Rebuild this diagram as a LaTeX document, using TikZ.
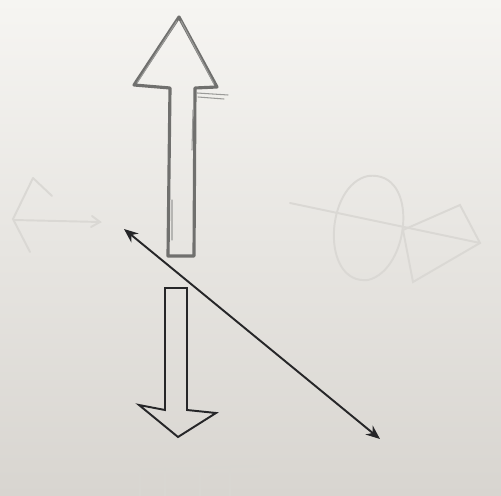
\documentclass[tikz,border=0pt]{standalone}
\usepackage{xcolor}
\usepackage{tikz}
\usetikzlibrary{arrows.meta}
\definecolor{paperlight}{RGB}{246,245,242}
\definecolor{paperdark}{RGB}{216,213,208}
\definecolor{pencilgray}{RGB}{112,112,110}
\definecolor{inkblack}{RGB}{38,38,40}
\definecolor{ghostgray}{RGB}{218,216,212}

\begin{document}
\begin{tikzpicture}[x=0.02cm, y=-0.02cm,
  pencil/.style={draw=pencilgray, line width=1.8pt, line join=round, line cap=round},
  sketch/.style={draw=pencilgray!70, line width=0.6pt, line cap=round},
  inkline/.style={draw=inkblack, line width=1.1pt, line join=miter},
  ghost/.style={draw=ghostgray, line width=1.1pt, line cap=round},
  twohead/.style={inkblack, line width=1.1pt, {Stealth[length=8pt,width=6.5pt]}-{Stealth[length=8pt,width=6.5pt]}}]

% Paper
\shade[shading angle=150, top color=paperlight, bottom color=paperdark]
  (0,0) rectangle (501,496);
\useasboundingbox (0,0) rectangle (501,496);

% Show-through from the back of the sheet
\draw[ghost] (14,220) -- (100,222);
\draw[ghost] (92,216) -- (100,222) -- (91,227);
\draw[ghost] (33,178) -- (13,219) -- (30,252);
\draw[ghost] (33,178) -- (52,196);
\draw[ghost] (290,203) -- (480,243);
\draw[ghost] (368,176) .. controls (420,170) and (410,270) .. (368,280)
  .. controls (320,285) and (325,185) .. (368,176);
\draw[ghost] (403,230) -- (460,205) -- (480,243) -- (413,282) -- cycle;
\draw[ghost, draw=ghostgray!60!paperdark] (140,470) -- (140,496) (165,468) -- (165,496)
  (200,470) -- (200,496) (230,468) -- (230,496) (140,470) -- (260,466);

% Up arrow (pencil)
\draw[pencil] (168,256) -- (170,88) -- (134,85) -- (179,17) -- (217,87)
  -- (195,88) -- (194,256) -- cycle;
\draw[sketch] (137,83) -- (177,21) (181,21) -- (214,84);
\draw[sketch] (197,93) -- (228,95) (198,97) -- (224,99);
\draw[sketch] (172,240) -- (172,200) (192,150) -- (193,110);

% Down arrow (ink)
\draw[inkline] (165,288) -- (187,288) -- (187,410) -- (216,413) -- (178,437)
  -- (139,405) -- (165,410) -- cycle;

% Double-headed arrow
\coordinate (topend) at (124,229);
\coordinate (botend) at (380,439);
\draw[twohead] (topend) -- (botend);

\end{tikzpicture}
\end{document}
